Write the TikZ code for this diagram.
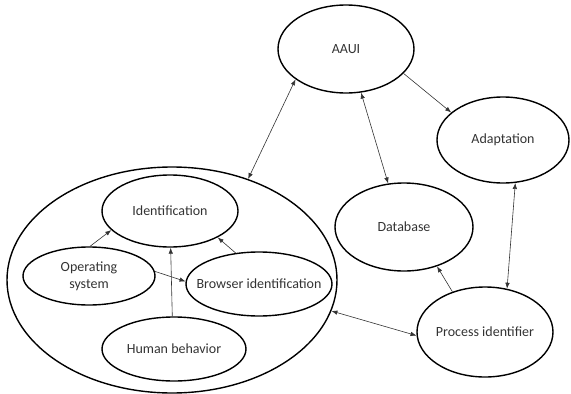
\documentclass[tikz,border=0pt]{standalone}
\usepackage{fontspec}
\setmainfont{Carlito}
\usetikzlibrary{shapes.geometric,arrows.meta}
\begin{document}
\begin{tikzpicture}[x=1pt,y=-1pt,
  ell/.style={draw=black,line width=1.4pt,ellipse,inner sep=0pt},
  lab/.style={font=\fontsize{14}{17}\selectfont,text=black!80,align=center,inner sep=0pt},
  link/.style={draw=black!80,line width=0.6pt,-{Latex[length=6pt,width=4.5pt]}},
  blink/.style={draw=black!80,line width=0.6pt,{Latex[length=6pt,width=4.5pt]}-{Latex[length=6pt,width=4.5pt]}}]
\useasboundingbox (0,0) rectangle (571,394);
\node[ell,minimum width=330pt,minimum height=226pt] (big) at (172,280) {};
\node[ell,minimum width=136pt,minimum height=88pt,label={[lab]center:AAUI}] (aaui) at (346,49) {};
\node[ell,minimum width=132pt,minimum height=86pt,label={[lab]center:Adaptation}] (adapt) at (503,140) {};
\node[ell,minimum width=138pt,minimum height=88pt,label={[lab]center:Database}] (db) at (404,227) {};
\node[ell,minimum width=136pt,minimum height=90pt,label={[lab]center:Process identifier}] (proc) at (485,332) {};
\node[ell,minimum width=136pt,minimum height=72pt,label={[lab]center:Identification}] (ident) at (170,211) {};
\node[ell,minimum width=132pt,minimum height=58pt,label={[lab]center:Operating\\system}] (os) at (89,276) {};
\node[ell,minimum width=146pt,minimum height=64pt,label={[lab]center:Browser identification}] (browser) at (259,284) {};
\node[ell,minimum width=144pt,minimum height=64pt,label={[lab]center:Human behavior}] (human) at (174,349) {};
\draw[blink] (aaui.211) -- (big.53);
\draw[blink] (aaui.289) -- (db.110);
\draw[link] (aaui.337) -- (adapt.152);
\draw[blink] (adapt.286) -- (proc.63);
\draw[link] (proc.129) -- (db.310);
\draw[blink] (proc.183) -- (big.349);
\draw[link] (os.88) -- (ident.198);
\draw[link] (browser.127) -- (ident.331);
\draw[link] (human.93) -- (ident.271);
\draw[link] (os.4) -- (browser.178);
\end{tikzpicture}
\end{document}
